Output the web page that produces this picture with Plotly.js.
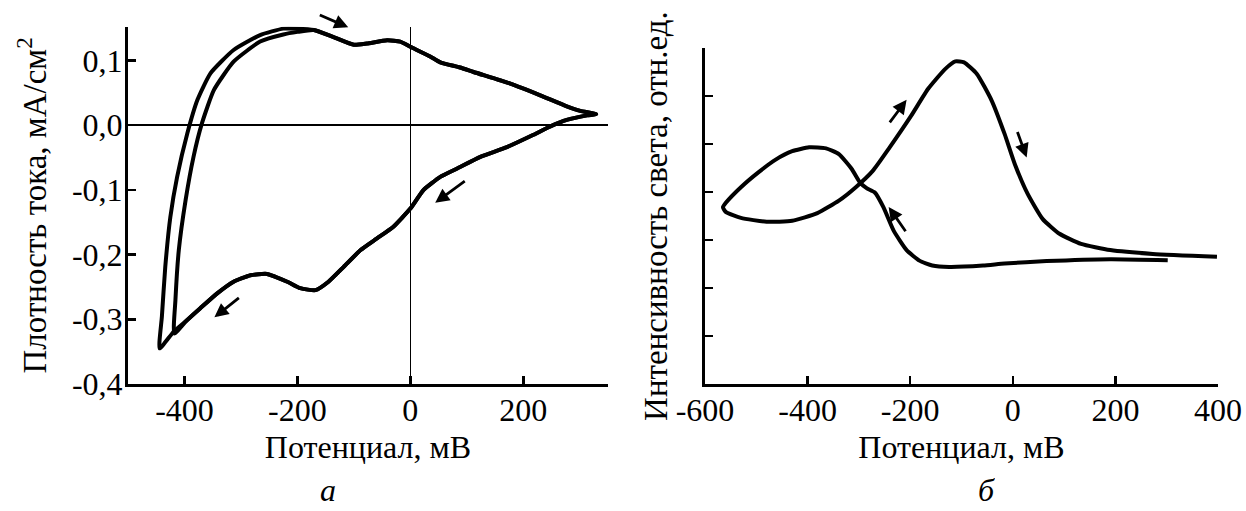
<!DOCTYPE html>
<html>
<head>
<meta charset="utf-8">
<script src="https://cdn.plot.ly/plotly-3.0.1.min.js"></script>
<style>html,body{margin:0;padding:0;background:#fff;}#chart{width:1246px;height:511px;}</style>
</head>
<body>
<div id="chart"></div>
<script>
// ---------- Panel а: cyclic voltammogram ----------
const lowerX = [329, 313, 277, 248, 218, 171, 124, 83, 53, 23.5, 0, -30, -59, -88, -118, -145, -168, -195, -218, -254, -283, -313, -342, -372, -395, -419, -444];
const lowerY = [0.017, 0.015, 0.008, -0.002, -0.015, -0.034, -0.049, -0.067, -0.080, -0.100, -0.129, -0.157, -0.175, -0.193, -0.219, -0.242, -0.255, -0.252, -0.242, -0.230, -0.232, -0.242, -0.260, -0.283, -0.301, -0.319, -0.345];
const outerUpX = [-444, -440, -434, -425, -413, -395, -377, -354, -313, -266, -225, -200];
const outerUpY = [-0.345, -0.296, -0.219, -0.142, -0.080, -0.013, 0.039, 0.080, 0.116, 0.139, 0.149, 0.149];
const innerUpX = [-418, -416, -410, -398, -384, -369, -348, -313, -266, -225, -200];
const innerUpY = [-0.322, -0.270, -0.193, -0.116, -0.049, 0.003, 0.054, 0.098, 0.129, 0.140, 0.144];
const upperX = [-171, -136, -100, -77, -41, -18, 0, 35, 53, 88, 112, 177, 230, 277, 301, 329];
const upperY = [0.147, 0.136, 0.124, 0.126, 0.131, 0.129, 0.121, 0.106, 0.097, 0.089, 0.082, 0.064, 0.046, 0.029, 0.022, 0.017];
const innerTurnX = -418;

const xTicksA = [-400, -200, 0, 200];
const xTickTextA = ['-400', '-200', '0', '200'];
const yTicksA = [-0.4, -0.3, -0.2, -0.1, 0.0, 0.1];
const yTickTextA = ['-0,4', '-0,3', '-0,2', '-0,1', '0,0', '0,1'];

// ---------- Panel б: light intensity ----------
const lightX = [302, 190, 66, -16, -58, -124, -157, -182, -207, -232, -252, -269, -285, -298, -314, -339, -364, -397, -430, -463, -496, -530, -559, -565, -559, -530, -480, -430, -381, -339, -306, -273, -240, -198, -165, -132, -112, -95, -70, -41, -16, 4, 29, 58, 91, 133, 190, 273, 398];
const lightY = [2.58, 2.60, 2.56, 2.51, 2.47, 2.44, 2.47, 2.57, 2.79, 3.19, 3.68, 3.99, 4.08, 4.20, 4.48, 4.79, 4.91, 4.93, 4.85, 4.67, 4.41, 4.10, 3.78, 3.68, 3.58, 3.46, 3.38, 3.40, 3.56, 3.82, 4.10, 4.44, 4.93, 5.59, 6.15, 6.56, 6.72, 6.70, 6.46, 5.90, 5.21, 4.58, 3.96, 3.44, 3.13, 2.92, 2.79, 2.71, 2.65];

const xTicksB = [-600, -400, -200, 0, 200, 400];
const xTickTextB = ['-600', '-400', '-200', '0', '200', '400'];
const yTicksB = [0, 1, 2, 3, 4, 5, 6, 7];

// scan-direction arrows: [tailX, tailY, headX, headY]
const arrowsA = [[-163, 0.171, -110, 0.151], [99, -0.085, 44, -0.120], [-301, -0.265, -347, -0.297]];
const arrowsB = [[-242, 5.42, -207, 5.92], [8, 5.28, 27, 4.72], [-207, 3.15, -242, 3.69]];

const cut = lowerX.map((v, i) => i).filter(i => lowerX[i] >= innerTurnX);
const cycle1X = lowerX.concat(outerUpX.slice(1), upperX);
const cycle1Y = lowerY.concat(outerUpY.slice(1), upperY);
const cycle2X = cut.map(i => lowerX[i]).concat(innerUpX, upperX);
const cycle2Y = cut.map(i => lowerY[i]).concat(innerUpY, upperY);

const FONT = 'Liberation Serif, Times New Roman, serif';
const lineStyle = {color: '#000', width: 4, shape: 'spline', smoothing: 0.5};

const traces = [
  {x: cycle1X, y: cycle1Y, xaxis: 'x', yaxis: 'y', mode: 'lines', line: lineStyle, showlegend: false},
  {x: cycle2X, y: cycle2Y, xaxis: 'x', yaxis: 'y', mode: 'lines', line: lineStyle, showlegend: false},
  {x: lightX, y: lightY, xaxis: 'x2', yaxis: 'y2', mode: 'lines', line: lineStyle, showlegend: false}
];

const W = 1246, H = 511;
const px = v => v / W, py = v => 1 - v / H;

const axisCommon = {
  showline: true, linecolor: '#000', linewidth: 3,
  ticks: 'inside', ticklen: 8, tickwidth: 2.5, tickcolor: '#000',
  showgrid: false, automargin: false, ticklabelstandoff: -4,
  tickfont: {family: FONT, size: 32, color: '#000'}
};

const annotations = [];
function arrowAnn(a, xr, yr) {
  return {xref: xr, yref: yr, axref: xr, ayref: yr, x: a[2], y: a[3], ax: a[0], ay: a[1],
          text: '', showarrow: true, arrowhead: 2, arrowsize: 1, arrowwidth: 2.8, arrowcolor: '#000'};
}
arrowsA.forEach(a => annotations.push(arrowAnn(a, 'x', 'y')));
arrowsB.forEach(a => annotations.push(arrowAnn(a, 'x2', 'y2')));
annotations.push({xref: 'paper', yref: 'paper', x: px(328), y: py(490), text: '<i>а</i>', showarrow: false, xanchor: 'center', yanchor: 'middle', height: 26, font: {family: FONT, size: 32, color: '#000'}});
annotations.push({xref: 'paper', yref: 'paper', x: px(986), y: py(490), text: '<i>б</i>', showarrow: false, xanchor: 'center', yanchor: 'middle', height: 26, font: {family: FONT, size: 32, color: '#000'}});

const layout = {
  width: W, height: H,
  margin: {l: 0, r: 0, t: 0, b: 0},
  paper_bgcolor: '#fff', plot_bgcolor: 'rgba(0,0,0,0)',
  showlegend: false,
  xaxis: Object.assign({}, axisCommon, {
    domain: [px(128), px(608)], range: [-500, 350], anchor: 'y',
    tickvals: xTicksA, ticktext: xTickTextA,
    zeroline: true, zerolinecolor: '#000', zerolinewidth: 1.5,
    title: {text: 'Потенциал, мВ', font: {family: FONT, size: 32, color: '#000'}, standoff: 9}
  }),
  yaxis: Object.assign({}, axisCommon, {
    domain: [py(384), py(26.7)], range: [-0.4, 0.152], anchor: 'x',
    tickvals: yTicksA, ticktext: yTickTextA,
    zeroline: true, zerolinecolor: '#000', zerolinewidth: 1.5,
    title: {text: 'Плотность тока, мА/см<sup>2</sup>', font: {family: FONT, size: 33, color: '#000'}, standoff: 16}
  }),
  xaxis2: Object.assign({}, axisCommon, {
    domain: [px(705), px(1218)], range: [-600, 400], anchor: 'y2',
    tickvals: xTicksB, ticktext: xTickTextB, zeroline: false,
    title: {text: 'Потенциал, мВ', font: {family: FONT, size: 32, color: '#000'}, standoff: 9}
  }),
  yaxis2: Object.assign({}, axisCommon, {
    domain: [py(384), py(48)], range: [0, 7], anchor: 'x2',
    tickvals: yTicksB, showticklabels: false, zeroline: false,
    title: {text: 'Интенсивность света, отн.ед.', font: {family: FONT, size: 33, color: '#000'}, standoff: 25}
  }),
  annotations: annotations
};

Plotly.newPlot('chart', traces, layout, {staticPlot: true, displayModeBar: false});
</script>
</body>
</html>
